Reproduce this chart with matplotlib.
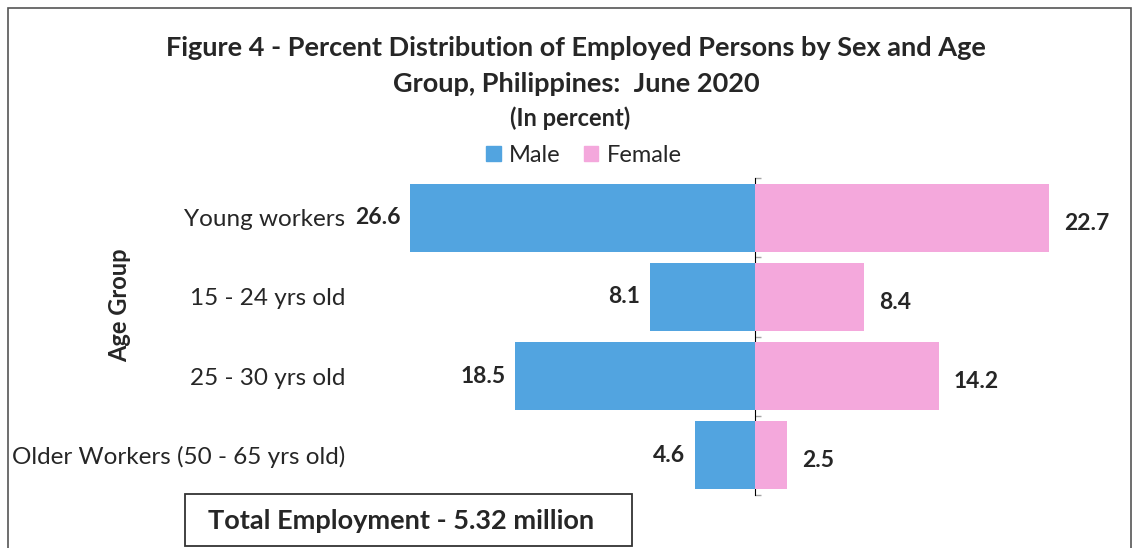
import matplotlib.pyplot as plt
from matplotlib.patches import Rectangle

categories = ['Young workers', '15 - 24 yrs old', '25 - 30 yrs old',
              'Older Workers (50 - 65 yrs old)']
male = [26.6, 8.1, 18.5, 4.6]
female = [22.7, 8.4, 14.2, 2.5]

blue = '#52a4e0'
pink = '#f4a8dc'
txt = '#262626'
plt.rcParams['font.family'] = ['Lato', 'DejaVu Sans']

W, H = 1136, 548
fig = plt.figure(figsize=(W / 100, H / 100), dpi=100)


def fx(px):
    return px / W


def fy(py):
    return 1 - py / H


# axes placed so that the centre line lands where the reference has it
ax = fig.add_axes([fx(352), fy(495), fx(1120) - fx(352), fy(178) - fy(495)])
xmin, xmax = -31.1, 28.2
ax.set_xlim(xmin, xmax)
ax.set_ylim(3.5, -0.5)

y = list(range(len(categories)))
ax.barh(y, [-m for m in male], height=0.86, color=blue)
ax.barh(y, female, height=0.86, color=pink)

for i in y:
    ax.annotate(f'{male[i]}', (-male[i], i), xytext=(-7, 0), textcoords='offset points',
                ha='right', va='center', fontsize=16.5, fontweight='bold', color=txt)
    ax.annotate(f'{female[i]}', (female[i], i), xytext=(11, -4), textcoords='offset points',
                ha='left', va='center', fontsize=16.5, fontweight='bold', color=txt)

ax.set_yticks(y)
ax.set_yticklabels(categories, fontsize=17.5, color=txt)
ax.tick_params(axis='y', length=0, pad=5)
ax.set_xticks([])
for s in ax.spines.values():
    s.set_visible(False)

# centre axis with tick marks between categories
sec = ax.secondary_yaxis(-xmin / (xmax - xmin))
sec.set_yticks([-0.5, 0.5, 1.5, 2.5, 3.5])
sec.set_yticklabels([])
sec.tick_params(length=4, color='#a6a6a6', width=1)
sec.spines['left'].set_color('#c8c8c8')

fig.text(fx(120), fy(305), 'Age Group', rotation=90, ha='center', va='center',
         fontsize=17, fontweight='bold', color=txt)

fig.text(fx(576), fy(48), 'Figure 4 - Percent Distribution of Employed Persons by Sex and Age',
         ha='center', va='center', fontsize=19.5, fontweight='bold', color=txt)
fig.text(fx(576), fy(84), 'Group, Philippines:  June 2020',
         ha='center', va='center', fontsize=19.5, fontweight='bold', color=txt)
fig.text(fx(570), fy(118), '(In percent)',
         ha='center', va='center', fontsize=17, fontweight='bold', color=txt)

handles = [Rectangle((0, 0), 1, 1, color=blue), Rectangle((0, 0), 1, 1, color=pink)]
fig.legend(handles, ['Male', 'Female'], loc='center', bbox_to_anchor=(fx(584), fy(155)),
           ncol=2, frameon=False, fontsize=17, handlelength=0.6, handleheight=0.6,
           handletextpad=0.35, columnspacing=1.0, labelcolor=txt)

# total employment box
fig.add_artist(Rectangle((fx(185), fy(546)), fx(632) - fx(185), fy(494) - fy(546),
                         transform=fig.transFigure, fill=False, edgecolor='#333333', lw=1.3))
fig.text(fx(401), fy(521), 'Total Employment - 5.32 million', ha='center', va='center',
         fontsize=19.5, fontweight='bold', color=txt)

# outer frame of the scanned chart
fig.add_artist(Rectangle((fx(8), fy(560)), fx(1131) - fx(8), fy(8) - fy(560),
                         transform=fig.transFigure, fill=False, edgecolor='#555555', lw=1.2))

fig.savefig('out.png', dpi=100)
